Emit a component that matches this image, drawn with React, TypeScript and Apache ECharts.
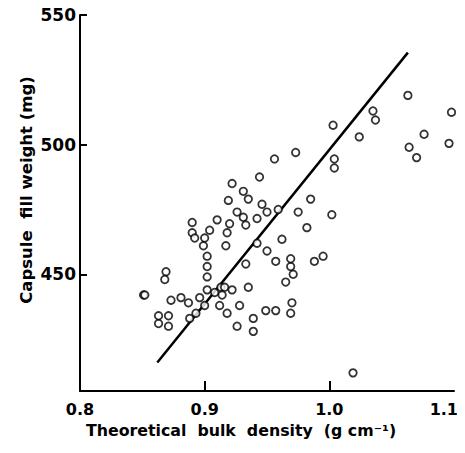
import React, { useEffect, useRef } from "react";
import * as echarts from "echarts";

// Theoretical bulk density (g cm-1)
const densityValues: number[] = [
  0.851, 0.852, 0.863, 0.871, 0.863, 0.871, 0.869, 0.868, 0.873, 0.881,
  0.887, 0.888, 0.893, 0.896, 0.900, 0.902, 0.902, 0.908, 0.913, 0.916,
  0.914, 0.922, 0.912, 0.918, 0.928, 0.926, 0.935, 0.939, 0.939, 0.949,
  0.957, 0.970, 0.969, 0.965, 0.971, 0.969, 0.969, 0.957, 0.933, 0.988,
  0.995, 1.019, 0.902, 0.902, 0.890, 0.890, 0.892, 0.900, 0.904, 0.899,
  0.910, 0.918, 0.917, 0.920, 0.919, 0.922, 0.926, 0.931, 0.931, 0.933,
  0.935, 0.942, 0.942, 0.944, 0.946, 0.950, 0.950, 0.956, 0.959, 0.962,
  0.973, 0.975, 0.982, 0.985, 1.002, 1.003, 1.004, 1.004, 1.024, 1.035,
  1.037, 1.064, 1.070, 1.076, 1.098, 1.096, 1.063,
];

// Capsule fill weight (mg)
const fillWeights: number[] = [
  442, 442, 434, 434, 431, 430, 451, 448, 440, 441,
  439, 433, 435, 441, 438, 449, 444, 443, 445, 445,
  442, 444, 438, 435, 438, 430, 445, 433, 428, 436,
  436, 439, 435, 447, 450, 453, 456, 455, 454, 455,
  457, 412, 453, 457, 470, 466, 464, 464, 467, 461,
  471, 466, 461, 469.5, 478.5, 485, 474, 482, 472, 469,
  479, 471.5, 462, 487.5, 477, 474, 459, 494.5, 475, 463.5,
  497, 474, 468, 479, 473, 507.5, 494.5, 491, 503, 513,
  509.5, 499, 495, 504, 512.5, 500.5, 519,
];

// Fitted regression line end points
const fitDensity: number[] = [0.862, 1.063];
const fitWeight: number[] = [416, 535.5];

const xMax = 1.1;
const yMin = 405;
const yTicks: number[] = [450, 500, 550];

const FONT = "DejaVu Sans";

export default function App() {
  const ref = useRef<HTMLDivElement>(null);

  useEffect(() => {
    if (!ref.current) return;
    const chart = echarts.init(ref.current, undefined, { renderer: "svg" });
    const points = densityValues.map((d, i) => [d, fillWeights[i]]);
    const fit = fitDensity.map((d, i) => [d, fitWeight[i]]);

    chart.setOption({
      animation: false,
      backgroundColor: "#ffffff",
      grid: { left: 80, right: 11, top: 15, bottom: 62, containLabel: false },
      xAxis: {
        type: "value",
        min: 0.8,
        max: xMax,
        interval: 0.1,
        splitLine: { show: false },
        axisLine: { show: true, onZero: false, lineStyle: { color: "#000", width: 2 } },
        axisTick: { show: true, inside: true, length: 10, lineStyle: { color: "#000", width: 2 } },
        axisLabel: {
          color: "#000",
          fontFamily: FONT,
          fontSize: 16,
          fontWeight: "bold",
          margin: 10,
          showMaxLabel: false,
          formatter: (v: number) => (v > 1.05 ? "" : v.toFixed(1)),
        },
      },
      yAxis: {
        type: "value",
        min: yMin,
        max: 550,
        splitLine: { show: false },
        axisLine: { show: true, onZero: false, lineStyle: { color: "#000", width: 2 } },
        axisTick: {
          show: true,
          inside: true,
          length: 7,
          customValues: yTicks,
          lineStyle: { color: "#000", width: 2 },
        },
        axisLabel: {
          color: "#000",
          fontFamily: FONT,
          fontSize: 17,
          fontWeight: "bold",
          margin: 4,
          customValues: yTicks,
        },
      },
      graphic: [
        {
          id: "ytitle",
          type: "text",
          x: 26,
          y: 190,
          rotation: Math.PI / 2,
          style: {
            text: "Capsule  fill weight (mg)",
            fontFamily: FONT,
            fontSize: 16.5,
            fontWeight: "bold",
            fill: "#000",
            textAlign: "center",
            textVerticalAlign: "middle",
          },
        },
        {
          id: "xtitle",
          type: "text",
          x: 241,
          y: 430,
          style: {
            text: "Theoretical  bulk  density  (g cm⁻¹)",
            fontFamily: FONT,
            fontSize: 15.8,
            fontWeight: "bold",
            fill: "#000",
            textAlign: "center",
            textVerticalAlign: "middle",
          },
        },
      ],
      series: [
        {
          type: "scatter",
          data: points,
          symbol: "circle",
          symbolSize: 7.5,
          itemStyle: { color: "#fff", borderColor: "#000", borderWidth: 1.8 },
          z: 3,
        },
        {
          type: "line",
          data: fit,
          showSymbol: false,
          symbol: "none",
          lineStyle: { color: "#000", width: 2.5 },
          z: 2,
        },
      ],
    });

    // last x tick label placed from the axis' own pixel for 1.1, right-aligned to stay inside the page
    const p = chart.convertToPixel({ gridIndex: 0 }, [xMax, yMin]) as number[];
    chart.setOption({
      graphic: [
        {
          id: "xmaxlabel",
          type: "text",
          x: p[0] + 4,
          y: p[1] + 10,
          style: {
            text: xMax.toFixed(1),
            fontFamily: FONT,
            fontSize: 16,
            fontWeight: "bold",
            fill: "#000",
            textAlign: "right",
            textVerticalAlign: "top",
          },
        },
      ],
    });

    return () => chart.dispose();
  }, []);

  return <div ref={ref} style={{ width: 465, height: 453, margin: -8 }} />;
}
